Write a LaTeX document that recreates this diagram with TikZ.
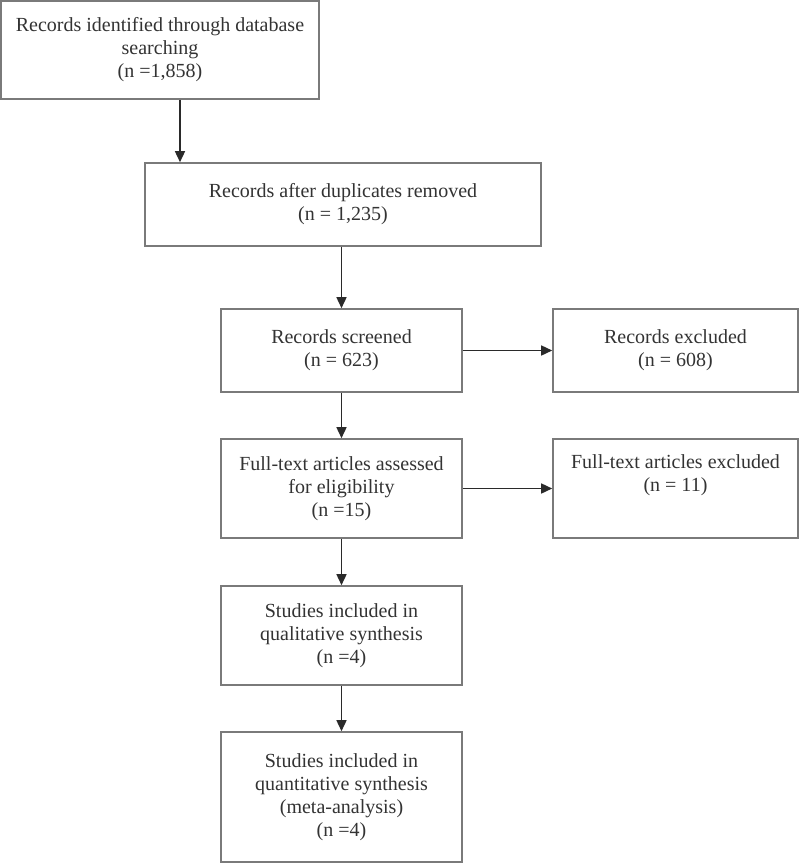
\documentclass[tikz,border=0pt]{standalone}
\usepackage{fontspec}
\setmainfont{Liberation Serif}
\usetikzlibrary{arrows.meta,calc}
\definecolor{boxline}{HTML}{7A7A7A}
\definecolor{arrline}{HTML}{2A2A2A}
\definecolor{txt}{HTML}{333333}
\tikzset{
  stage/.style={draw=boxline, line width=1.6pt, fill=white, align=center,
    inner sep=0pt, text=txt, font=\fontsize{20}{23}\selectfont},
  arr/.style={draw=arrline, line width=1.5pt, -{Triangle[length=11pt,width=10pt]}}
}
\begin{document}
\begin{tikzpicture}[x=1pt,y=-1pt]
\useasboundingbox (0,0) rectangle (800,865);
\node[stage, minimum width=318pt, minimum height=98pt] (b1) at (160,50)
  {Records identified through database\\searching\\(n =1,858)};
\node[stage, minimum width=396pt, minimum height=83pt] (b2) at (343,204.5)
  {Records after duplicates removed\\(n = 1,235)};
\node[stage, minimum width=241pt, minimum height=83pt] (b3) at (341.5,350.5)
  {Records screened\\(n = 623)};
\node[stage, minimum width=245pt, minimum height=83pt] (b4) at (675.5,350.5)
  {Records excluded\\(n = 608)};
\node[stage, minimum width=241pt, minimum height=99pt] (b5) at (341.5,488.5)
  {Full-text articles assessed\\for eligibility\\(n =15)};
\node[stage, minimum width=245pt, minimum height=99pt] (b6) at (675.5,488.5)
  {Full-text articles excluded\\(n = 11)\\\strut};
\node[stage, minimum width=241pt, minimum height=99pt] (b7) at (341.5,635.5)
  {Studies included in\\qualitative synthesis\\(n =4)};
\node[stage, minimum width=241pt, minimum height=130pt] (b8) at (341.5,797)
  {Studies included in\\quantitative synthesis\\(meta-analysis)\\(n =4)};
\coordinate (a1) at (180,0);
\draw[arr] (b1.south -| a1) -- (b2.north -| a1);
\draw[arr] (b2.south -| b3.north) -- (b3.north);
\draw[arr] (b3.south) -- (b5.north);
\draw[arr] (b5.south) -- (b7.north);
\draw[arr] (b7.south) -- (b8.north);
\draw[arr] (b3.east) -- (b3.east -| b4.west);
\draw[arr] (b5.east) -- (b5.east -| b6.west);
\end{tikzpicture}
\end{document}
